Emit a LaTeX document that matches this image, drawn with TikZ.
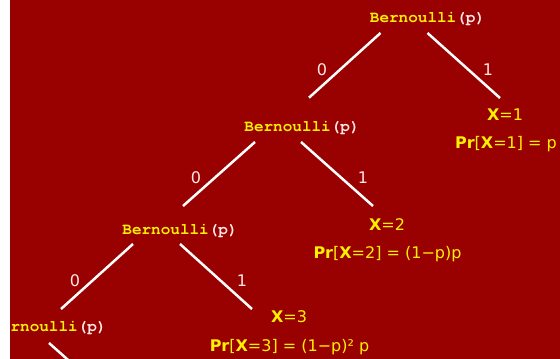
\documentclass[tikz,border=0pt]{standalone}
\usepackage{fontspec}
\setmainfont{DejaVu Sans}
\newfontfamily\monofont{TeX Gyre Cursor}
\usetikzlibrary{calc}
\definecolor{slidered}{HTML}{990000}
\definecolor{pinkwhite}{HTML}{FFE6E6}
\newcommand{\berntext}{Bernoulli\textcolor{pinkwhite}{(p)}}

\begin{document}
\begin{tikzpicture}[x=1pt, y=-1pt,
  every node/.style={inner sep=0pt, anchor=base},
  bern/.style={font=\monofont\bfseries\fontsize{16}{16}\selectfont, text=yellow},
  outcome/.style={font=\fontsize{16}{16}\selectfont, text=yellow},
  bit/.style={font=\fontsize{16}{16}\selectfont, text=pinkwhite},
  edge/.style={draw=white, line width=2.5pt}]
  \useasboundingbox (0,0) rectangle (560,359);
  \fill[slidered] (10,0) rectangle (560,359);
  \clip (10,0) rectangle (560,359);

  % coin flips
  \node[bern] (b1) at (427.5,22.5) {\berntext};
  \node[bern] (b2) at (302,131) {\berntext};
  \node[bern] (b3) at (180,234) {\berntext};
  \node[bern] (b4) at (49,331) {\berntext};

  % outcomes
  \node[outcome] (x1) at (505,120) {\textbf{X}=1};
  \node[outcome] (p1) at (506,148) {\textbf{Pr}[\textbf{X}=1] = p};
  \node[outcome] (x2) at (387,230) {\textbf{X}=2};
  \node[outcome] (p2) at (387.5,258) {\textbf{Pr}[\textbf{X}=2] = (1−p)p};
  \node[outcome] (x3) at (289,322.5) {\textbf{X}=3};
  \node[outcome] (p3) at (289.5,351) {\textbf{Pr}[\textbf{X}=3] = (1−p)² p};

  % branches
  \draw[edge] ($(b1.base)+(-47,10.5)$) -- ($(b2.base)+(7,-33.3)$);
  \draw[edge] ($(b1.base)+(0,10.5)$) -- ($(x1.base)+(-5,-22)$);
  \draw[edge] ($(b2.base)+(-47,11)$) -- ($(b3.base)+(3,-28)$);
  \draw[edge] ($(b2.base)+(-1,11)$) -- ($(x2.base)+(-14,-24)$);
  \draw[edge] ($(b3.base)+(-47,10)$) -- ($(b4.base)+(12,-22)$);
  \draw[edge] ($(b3.base)+(0,10)$) -- ($(x3.base)+(-37,-13.5)$);
  \coordinate (b4end) at ($(b4.base)+(72,76)$);
  \draw[edge] ($(b4.base)+(0,12)$) -- (b4end);

  % branch labels
  \node[bit] (l1a) at (322,75) {0};
  \node[bit] (l1b) at (488,75) {1};
  \node[bit] (l2a) at (196,183) {0};
  \node[bit] (l2b) at (363,183.5) {1};
  \node[bit] (l3a) at (75,286.5) {0};
  \node[bit] (l3b) at (242,286) {1};
\end{tikzpicture}
\end{document}
